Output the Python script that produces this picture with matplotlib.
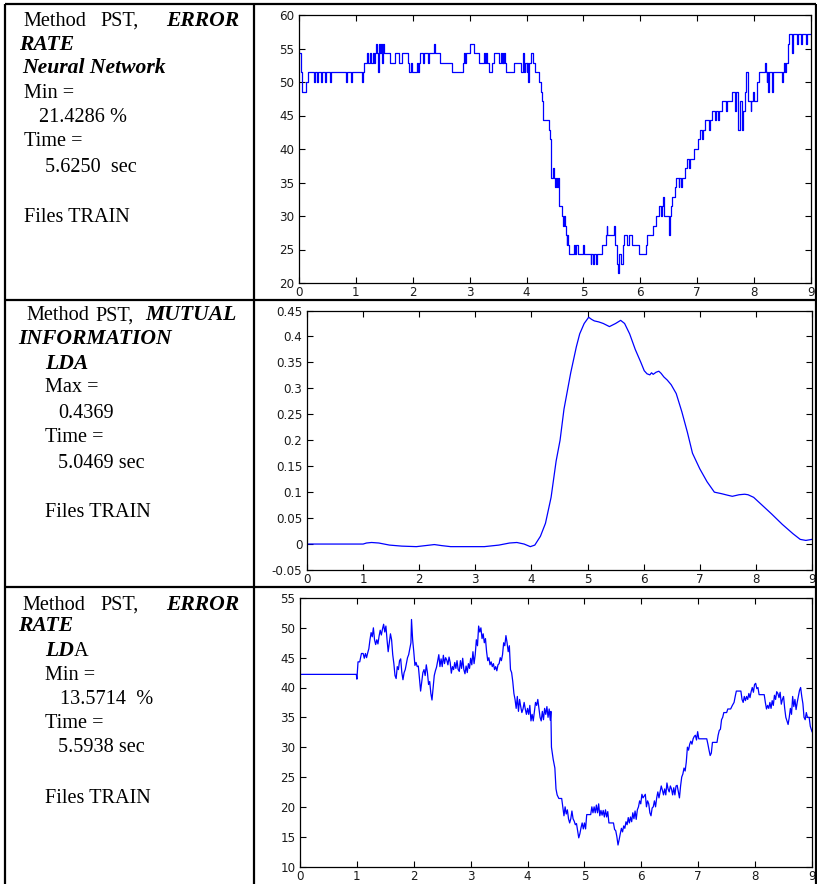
import matplotlib
matplotlib.use("Agg")
import matplotlib.pyplot as plt
from matplotlib.lines import Line2D
from matplotlib.ticker import FuncFormatter
import numpy as np

# ---------------- data ----------------
SAMPLE_RATE = 64      # samples per second
N_TEST = 70           # test trials (error rate = errors / N_TEST)

# Neural network error rate: step series (sample index where level starts, error count)
NN_N = [0, 2, 3, 8, 10,
        17, 18, 20, 21, 25, 26, 29, 30, 35, 36, 53, 54, 59, 60, 71, 72,
        73, 77, 78, 80, 81, 83, 84, 86, 87, 88, 89, 90, 91, 92, 93, 95, 96,
        102, 108, 112, 116, 123, 124, 126, 127, 133, 134, 135, 136, 140, 141, 145, 146,
        149, 152, 153, 159, 172, 185, 186, 187, 188, 192, 197, 202, 208, 209, 210, 211,
        214, 217, 219, 225, 227, 228, 229, 230, 231, 232, 233, 242, 250, 252, 253, 254,
        256, 257, 258, 259, 261, 263, 266, 270, 272, 273, 274, 281, 282, 283, 284, 286,
        287, 288, 289, 290, 291, 292, 293, 296, 297, 298, 299, 300, 301, 302, 303, 304,
        309, 311, 312, 314, 320, 321, 328, 329, 331, 332, 334, 335, 341, 345, 346, 347,
        354, 355, 356, 358, 359, 360, 362, 364, 366, 369, 371, 375, 383, 390, 391, 398,
        402, 405, 407, 408, 410, 411, 416, 417, 419, 420, 423, 424, 427, 428, 430, 431,
        434, 436, 439, 440, 444, 449, 451, 453, 454, 457, 461, 462, 465, 468, 469, 471,
        472, 476, 480, 481, 487, 490, 492, 494, 496, 498, 500, 502, 503, 505, 508, 509,
        511, 512, 515, 517, 524, 525, 526, 527, 528, 529, 532, 533, 543, 544, 546, 547,
        548, 550, 551, 555, 556, 560, 561, 565, 566, 570, 571]
NN_K = [38, 36, 34, 35, 36,
        35, 36, 35, 36, 35, 36, 35, 36, 35, 36, 35, 36, 35, 36, 35, 36,
        37, 38, 37, 38, 37, 38, 37, 38, 39, 38, 36, 39, 38, 39, 37, 39, 38,
        37, 38, 37, 38, 37, 36, 37, 36, 37, 36, 37, 38, 37, 38, 37, 38,
        38, 39, 38, 37, 36, 37, 38, 37, 38, 39, 38, 37, 38, 37, 38, 37,
        36, 37, 38, 37, 38, 37, 38, 37, 38, 37, 36, 37, 36, 38, 36, 37,
        36, 37, 35, 37, 38, 37, 36, 35, 34, 33, 31, 30, 29, 27, 25, 26,
        25, 24, 25, 24, 25, 23, 22, 21, 20, 21, 20, 19, 18, 19, 18, 17,
        18, 17, 18, 17, 18, 17, 16, 17, 16, 17, 16, 17, 18, 19, 20, 19,
        20, 19, 18, 16, 15, 17, 16, 18, 19, 18, 19, 18, 17, 18, 19, 20,
        21, 22, 21, 22, 23, 21, 19, 21, 22, 23, 24, 25, 24, 25, 24, 25,
        26, 27, 26, 27, 28, 29, 30, 29, 30, 31, 30, 31, 32, 31, 32, 31,
        32, 33, 32, 33, 34, 32, 34, 30, 33, 30, 32, 34, 36, 33, 32, 33,
        34, 33, 35, 36, 37, 36, 35, 36, 34, 36, 34, 36, 35, 36, 37, 36,
        37, 39, 40, 38, 40, 39, 40, 39, 40, 39, 40]

# Mutual information (LDA)
MI_T = [0.00, 0.50, 1.00, 1.06, 1.15, 1.28, 1.47, 1.69, 1.95, 2.11, 2.27, 2.40, 2.56,
        3.16, 3.42, 3.61, 3.74, 3.87, 3.98, 4.06, 4.16, 4.25, 4.35, 4.44, 4.51, 4.58,
        4.70, 4.80, 4.86, 4.94, 5.02, 5.07, 5.12, 5.20, 5.28, 5.39, 5.50, 5.59, 5.66,
        5.75, 5.85, 5.95, 6.01, 6.06, 6.11, 6.14, 6.17, 6.22, 6.27, 6.31, 6.36, 6.42,
        6.49, 6.58, 6.68, 6.78, 6.87, 7.00, 7.13, 7.26, 7.39, 7.50, 7.58, 7.70, 7.80,
        7.86, 7.96, 8.09, 8.28, 8.47, 8.66, 8.79, 8.89, 9.00]
MI_VAL = [0.000, 0.000, 0.000, 0.002, 0.003, 0.002, -0.002, -0.004, -0.005, -0.003,
          -0.001, -0.003, -0.005, -0.005, -0.002, 0.002, 0.003, 0.000, -0.005, -0.002,
          0.015, 0.040, 0.090, 0.160, 0.200, 0.260, 0.330, 0.380, 0.405, 0.425, 0.437,
          0.433, 0.430, 0.428, 0.425, 0.419, 0.425, 0.431, 0.425, 0.405, 0.375, 0.350,
          0.334, 0.328, 0.326, 0.330, 0.327, 0.331, 0.333, 0.329, 0.322, 0.316, 0.307,
          0.290, 0.255, 0.215, 0.175, 0.145, 0.120, 0.100, 0.097, 0.094, 0.092, 0.095,
          0.096, 0.095, 0.090, 0.077, 0.058, 0.038, 0.020, 0.009, 0.007, 0.009]

# LDA error rate (%): (time s, value) pairs
LDA_POINTS = [
    (0.00, 42.2), (0.99, 42.2), (1.00, 41.4), (1.02, 44.3), (1.05, 44.3), (1.08, 45.7),
    (1.11, 45.7), (1.13, 44.9), (1.15, 45.7), (1.17, 45.0), (1.19, 45.8), (1.21, 46.5),
    (1.23, 48.0), (1.25, 49.2), (1.27, 48.5), (1.29, 50.0), (1.31, 48.0), (1.33, 47.2),
    (1.35, 48.0), (1.37, 47.3), (1.39, 48.6), (1.41, 49.6), (1.43, 48.8), (1.45, 49.8),
    (1.47, 50.6), (1.49, 49.3), (1.51, 50.3), (1.53, 48.0), (1.55, 46.0), (1.57, 47.5),
    (1.59, 49.0), (1.61, 48.0), (1.63, 45.5), (1.65, 44.0), (1.67, 42.0), (1.69, 41.5),
    (1.71, 43.5), (1.73, 43.0), (1.75, 44.5), (1.77, 44.8), (1.79, 42.5), (1.81, 41.3),
    (1.83, 42.5), (1.85, 43.0), (1.87, 44.0), (1.89, 45.0), (1.91, 45.5), (1.93, 46.5),
    (1.95, 47.5), (1.96, 51.4), (1.98, 48.0), (2.00, 46.0), (2.02, 43.7), (2.04, 44.2),
    (2.06, 43.5), (2.08, 43.6), (2.10, 41.5), (2.12, 39.4), (2.14, 41.0), (2.16, 42.5),
    (2.18, 43.0), (2.20, 42.0), (2.22, 43.8), (2.24, 42.5), (2.26, 40.5), (2.28, 41.0),
    (2.30, 39.0), (2.32, 37.9), (2.34, 40.0), (2.36, 42.0), (2.38, 42.8), (2.40, 43.4),
    (2.42, 44.5), (2.44, 45.5), (2.46, 43.5), (2.48, 44.8), (2.50, 43.5), (2.52, 45.4),
    (2.54, 44.0), (2.56, 45.0), (2.58, 44.6), (2.60, 43.8), (2.62, 45.1), (2.64, 44.2),
    (2.66, 42.4), (2.68, 43.5), (2.70, 43.0), (2.72, 44.2), (2.74, 43.2), (2.76, 44.5),
    (2.78, 43.0), (2.80, 42.7), (2.82, 44.5), (2.84, 43.2), (2.86, 44.9), (2.88, 43.0),
    (2.90, 42.3), (2.92, 43.6), (2.94, 42.5), (2.96, 44.0), (2.98, 43.2), (3.00, 44.9),
    (3.02, 43.8), (3.04, 46.0), (3.06, 44.0), (3.08, 45.5), (3.10, 48.0), (3.12, 47.0),
    (3.14, 50.3), (3.16, 49.3), (3.18, 50.0), (3.20, 48.2), (3.22, 49.0), (3.24, 47.5),
    (3.26, 48.2), (3.28, 46.0), (3.30, 44.5), (3.32, 45.0), (3.34, 43.8), (3.36, 44.3),
    (3.38, 43.5), (3.40, 44.0), (3.42, 43.0), (3.44, 43.5), (3.46, 42.8), (3.48, 43.8),
    (3.50, 44.0), (3.52, 45.0), (3.54, 44.5), (3.56, 45.5), (3.58, 47.5), (3.60, 47.0),
    (3.62, 48.7), (3.64, 47.5), (3.66, 46.0), (3.68, 47.0), (3.70, 43.0), (3.72, 42.5),
    (3.74, 41.0), (3.76, 39.0), (3.78, 38.0), (3.80, 36.5), (3.82, 38.5), (3.84, 36.0),
    (3.86, 38.0), (3.88, 36.8), (3.90, 35.8), (3.92, 36.4), (3.94, 37.5), (3.96, 36.4),
    (3.98, 35.5), (4.00, 36.5), (4.02, 35.5), (4.04, 37.0), (4.06, 34.4), (4.08, 35.5),
    (4.10, 34.4), (4.12, 36.0), (4.14, 37.5), (4.16, 37.0), (4.18, 38.0), (4.20, 36.5),
    (4.22, 35.0), (4.24, 34.4), (4.26, 36.0), (4.28, 34.6), (4.30, 36.5), (4.32, 35.5),
    (4.34, 36.8), (4.36, 35.0), (4.38, 36.4), (4.40, 34.5), (4.41, 36.0), (4.42, 30.0),
    (4.45, 28.0), (4.48, 26.5), (4.50, 23.0), (4.52, 22.0), (4.55, 21.4), (4.60, 21.4),
    (4.62, 20.0), (4.64, 18.5), (4.66, 20.0), (4.68, 18.8), (4.70, 19.5), (4.72, 18.0),
    (4.74, 17.3), (4.76, 18.0), (4.78, 19.3), (4.80, 18.0), (4.82, 17.6), (4.84, 17.0),
    (4.86, 17.2), (4.88, 16.0), (4.90, 14.8), (4.92, 15.5), (4.94, 16.5), (4.96, 17.3),
    (4.98, 16.3), (5.00, 17.3), (5.02, 16.3), (5.04, 18.7), (5.11, 18.7), (5.13, 20.0),
    (5.15, 19.0), (5.17, 20.0), (5.19, 19.0), (5.21, 20.3), (5.23, 19.0), (5.25, 20.5),
    (5.27, 18.5), (5.29, 19.4), (5.31, 18.6), (5.33, 19.4), (5.35, 18.3), (5.37, 19.5),
    (5.39, 18.3), (5.41, 19.2), (5.43, 17.3), (5.51, 17.3), (5.53, 16.2), (5.55, 16.0),
    (5.57, 15.0), (5.59, 13.6), (5.61, 14.5), (5.63, 15.5), (5.65, 16.4), (5.67, 15.8),
    (5.69, 16.8), (5.71, 16.4), (5.73, 17.5), (5.75, 17.0), (5.77, 18.2), (5.79, 17.3),
    (5.81, 18.3), (5.83, 17.5), (5.85, 19.0), (5.87, 18.0), (5.89, 19.3), (5.91, 17.9),
    (5.93, 19.5), (5.95, 20.0), (5.97, 21.0), (5.99, 20.5), (6.01, 22.1), (6.03, 21.5),
    (6.07, 22.1), (6.09, 20.0), (6.11, 21.0), (6.13, 20.5), (6.15, 19.0), (6.17, 18.5),
    (6.19, 19.8), (6.21, 20.0), (6.23, 21.0), (6.25, 20.0), (6.27, 21.5), (6.29, 22.5),
    (6.31, 21.5), (6.33, 22.5), (6.35, 23.5), (6.37, 22.8), (6.39, 22.0), (6.41, 23.0),
    (6.43, 22.0), (6.45, 24.0), (6.47, 23.0), (6.49, 22.5), (6.51, 23.5), (6.53, 23.0),
    (6.55, 22.0), (6.57, 23.2), (6.59, 22.0), (6.61, 23.5), (6.63, 23.6), (6.65, 22.5),
    (6.67, 21.5), (6.69, 23.5), (6.71, 25.0), (6.73, 25.5), (6.75, 26.5), (6.77, 26.0),
    (6.79, 27.5), (6.81, 30.0), (6.83, 29.5), (6.85, 30.5), (6.87, 31.0), (6.89, 30.5),
    (6.91, 31.4), (6.93, 31.8), (6.95, 32.0), (6.97, 31.2), (6.99, 32.6), (7.01, 31.4),
    (7.15, 31.4), (7.17, 30.5), (7.19, 29.5), (7.21, 28.6), (7.23, 29.0), (7.25, 30.8),
    (7.33, 30.8), (7.35, 32.0), (7.37, 32.8), (7.39, 33.0), (7.41, 34.6), (7.43, 35.0),
    (7.45, 35.8), (7.50, 35.8), (7.52, 36.4), (7.57, 36.4), (7.60, 37.0), (7.63, 37.5),
    (7.65, 38.5), (7.67, 39.4), (7.75, 39.4), (7.77, 38.0), (7.79, 37.5), (7.81, 38.5),
    (7.83, 37.8), (7.85, 38.5), (7.87, 38.0), (7.89, 39.0), (7.91, 38.3), (7.93, 39.3),
    (7.95, 40.0), (7.97, 39.2), (7.99, 40.5), (8.01, 40.7), (8.03, 39.8), (8.05, 40.0),
    (8.07, 38.8), (8.16, 38.8), (8.18, 37.5), (8.20, 36.4), (8.22, 37.0), (8.24, 36.5),
    (8.26, 37.5), (8.28, 36.5), (8.30, 37.8), (8.32, 37.0), (8.34, 38.7), (8.36, 38.0),
    (8.38, 39.3), (8.40, 39.0), (8.42, 38.3), (8.44, 39.2), (8.46, 37.2), (8.48, 38.0),
    (8.50, 38.5), (8.52, 36.5), (8.54, 35.0), (8.56, 34.4), (8.58, 33.8), (8.60, 35.0),
    (8.62, 36.5), (8.64, 35.5), (8.66, 38.5), (8.68, 36.8), (8.70, 38.0), (8.72, 36.3),
    (8.74, 37.5), (8.76, 38.5), (8.78, 39.5), (8.80, 40.0), (8.82, 38.5), (8.84, 37.3),
    (8.86, 35.0), (8.88, 34.6), (8.90, 35.8), (8.92, 35.0), (8.95, 35.0), (8.97, 33.5),
    (9.00, 32.6)]
LDA_T = [p[0] for p in LDA_POINTS]
LDA_ERR = [p[1] for p in LDA_POINTS]

X_TICKS = list(range(0, 10))
Y1_TICKS = list(range(20, 61, 5))
Y2_TICKS = [-0.05, 0, 0.05, 0.1, 0.15, 0.2, 0.25, 0.3, 0.35, 0.4, 0.45]
Y3_TICKS = list(range(10, 56, 5))

ROW_TEXT = [
    # (x_px, baseline_y_px, text, bold_italic)
    [(23, 25.5, "Method", False), (100, 25.5, "PST,", False), (166, 25.5, "ERROR", True),
     (19, 50.5, "RATE", True), (22, 73, "Neural Network", True),
     (24, 97.5, "Min =", False), (39, 122, "21.4286 %", False),
     (24, 146.5, "Time =", False), (45, 171.5, "5.6250  sec", False),
     (24, 221.5, "Files TRAIN", False)],
    [(26, 320.5, "Method", False), (95, 320.5, "PST,", False), (145, 320.5, "MUTUAL", True),
     (18, 344, "INFORMATION", True), (45, 368.5, "LDA", True),
     (45, 392.5, "Max =", False), (58, 417.5, "0.4369", False),
     (45, 442.5, "Time =", False), (58, 467.5, "5.0469 sec", False),
     (45, 517, "Files TRAIN", False)],
    [(22, 610, "Method", False), (100, 610, "PST,", False), (166, 610, "ERROR", True),
     (18, 631, "RATE", True), (45, 655.5, "LD", True),
     (45, 679.5, "Min =", False), (60, 704, "13.5714  %", False),
     (45, 728, "Time =", False), (58, 752.5, "5.5938 sec", False),
     (45, 803, "Files TRAIN", False)],
]

# ---------------- figure ----------------
W, H = 817, 884
fig = plt.figure(figsize=(W / 100, H / 100), dpi=100)
fig.patch.set_facecolor("white")


def fx(x):
    return x / W


def fy(y):
    return 1 - y / H


def add_axes(l, t, r, b):
    return fig.add_axes([fx(l), fy(b), (r - l) / W, (b - t) / H])


def hline(y, x0=5, x1=816):
    fig.add_artist(Line2D([fx(x0), fx(x1)], [fy(y), fy(y)], transform=fig.transFigure,
                          color="black", lw=1.6, solid_capstyle="butt"))


def vline(x, y0=4, y1=884):
    fig.add_artist(Line2D([fx(x), fx(x)], [fy(y0), fy(y1)], transform=fig.transFigure,
                          color="black", lw=1.6, solid_capstyle="butt"))


hline(4)
hline(300)
hline(586.5)
vline(5)
vline(254)
vline(816)

TICK_FONT = "DejaVu Sans"
LINE_COLOR = "#0000ff"

ax1 = add_axes(299, 15, 811, 283)
ax2 = add_axes(307, 310.5, 812, 570)
ax3 = add_axes(300, 598, 812, 866.5)

fmt = FuncFormatter(lambda v, p: ("%g" % round(v, 4)))

# panel 1
nn_t = np.array(NN_N + [9 * SAMPLE_RATE]) / SAMPLE_RATE
nn_y = np.array(NN_K + [NN_K[-1]]) / N_TEST * 100
ax1.plot(nn_t, nn_y, drawstyle="steps-post", color=LINE_COLOR, lw=0.9)
ax1.set_ylim(20, 60)
ax1.set_yticks(Y1_TICKS)

# panel 2
ax2.plot(MI_T, MI_VAL, color=LINE_COLOR, lw=0.9)
ax2.set_ylim(-0.05, 0.45)
ax2.set_yticks(Y2_TICKS)

# panel 3
ax3.plot(LDA_T, LDA_ERR, color=LINE_COLOR, lw=0.9)
ax3.set_ylim(10, 55)
ax3.set_yticks(Y3_TICKS)

for ax in (ax1, ax2, ax3):
    ax.set_xlim(0, 9)
    ax.set_xticks(X_TICKS)
    ax.xaxis.set_major_formatter(fmt)
    ax.yaxis.set_major_formatter(fmt)
    ax.tick_params(direction="in", length=4, width=0.8, top=True, right=True,
                   labelsize=8.6, labelcolor="#1a1a1a")
    ax.tick_params(axis="x", pad=2.3)
    ax.tick_params(axis="y", pad=3.3)
    for lab in ax.get_xticklabels() + ax.get_yticklabels():
        lab.set_fontfamily(TICK_FONT)
    for s in ax.spines.values():
        s.set_linewidth(0.9)

# text column
TXT_FONT = "Liberation Serif"
TXT_SIZE = 14.6
BI_SIZE = 15.6
ld_text = None
for row in ROW_TEXT:
    for (x, y, s, bi) in row:
        t = fig.text(fx(x), fy(y), s, fontfamily=TXT_FONT,
                     fontsize=BI_SIZE if bi else TXT_SIZE,
                     fontweight="bold" if bi else "normal",
                     fontstyle="italic" if bi else "normal",
                     ha="left", va="baseline")
        if s == "LD":
            ld_text = t

# "A" following the bold italic "LD"
fig.canvas.draw()
r = fig.canvas.get_renderer()
bb = ld_text.get_window_extent(r)
fig.text(bb.x1 / W, fy(655.5), "A", fontfamily=TXT_FONT, fontsize=TXT_SIZE,
         ha="left", va="baseline")

fig.savefig("out.png", dpi=100, facecolor="white")
